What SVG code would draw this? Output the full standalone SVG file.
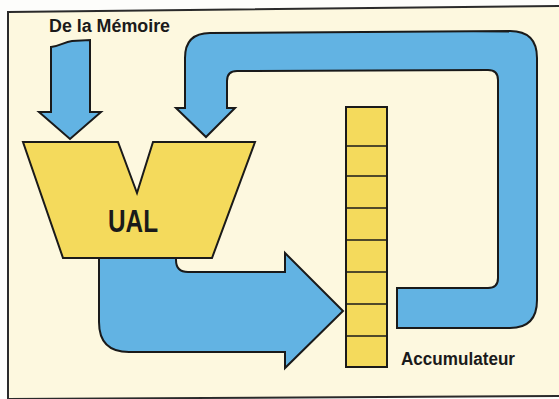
<svg xmlns="http://www.w3.org/2000/svg" width="559" height="399" viewBox="0 0 559 399">
<style>
.blue{fill:#62b3e3;stroke:#1a1a1a;stroke-width:2;stroke-linejoin:miter}
.yel{fill:#f4da5c;stroke:#1a1a1a;stroke-width:2;stroke-linejoin:miter}
.cell{fill:none;stroke:#1a1a1a;stroke-width:1.6}
.lbl{font-family:"Liberation Sans",Arial,sans-serif;font-weight:bold;fill:#1a1a1a}
</style>
<rect x="0" y="0" width="559" height="399" fill="#fdfdfb"/>
<polygon points="8,12 562,6 562,396 8,399" fill="#fdf8df" stroke="#2a2a2a" stroke-width="2"/>
<g id="connectors">
<path id="from-memory" class="blue" d="M51,47 C60,46 64,42 72,41 L90,40 L90,112 L101,112 L70,139 L39,112 L51,112 Z"/>
<path id="feedback" class="blue" d="M397,288 L488,288 Q498,288 498,278 L498,80 Q498,70 488,70 L237,71 Q227,71 227,81 L227,108 L235,108 L206,137 L176,108 L185,108 L185,58 Q185,33 210,33 L510,31 Q537,31 537,58 L537,300 Q537,328 510,328 L397,328 Z"/>
<path id="to-acc" class="blue" d="M99,256 L99,322 Q99,352 129,352 L285,352 L285,368 L343,311 L285,253 L285,272 L188,272 Q176,272 176,260 L176,256 Z"/>
</g>
<g id="ual">
<polygon class="yel" points="23,142 118,142 137,193 153,142 255,142 212,258 63,258"/>
<text class="lbl" x="108" y="232" font-size="32" textLength="50" lengthAdjust="spacingAndGlyphs">UAL</text>
</g>
<g id="accumulateur">
<rect class="yel" x="346" y="107" width="41" height="260"/>
<path class="cell" d="M346,146H387M346,176H387M346,208H387M346,240H387M346,272H387M346,304H387M346,336H387"/>
<text class="lbl" x="401" y="365" font-size="18" textLength="114" lengthAdjust="spacingAndGlyphs">Accumulateur</text>
</g>
<g id="memoire">
<text class="lbl" x="49" y="32" font-size="18" textLength="121" lengthAdjust="spacingAndGlyphs">De la Mémoire</text>
</g>
</svg>
